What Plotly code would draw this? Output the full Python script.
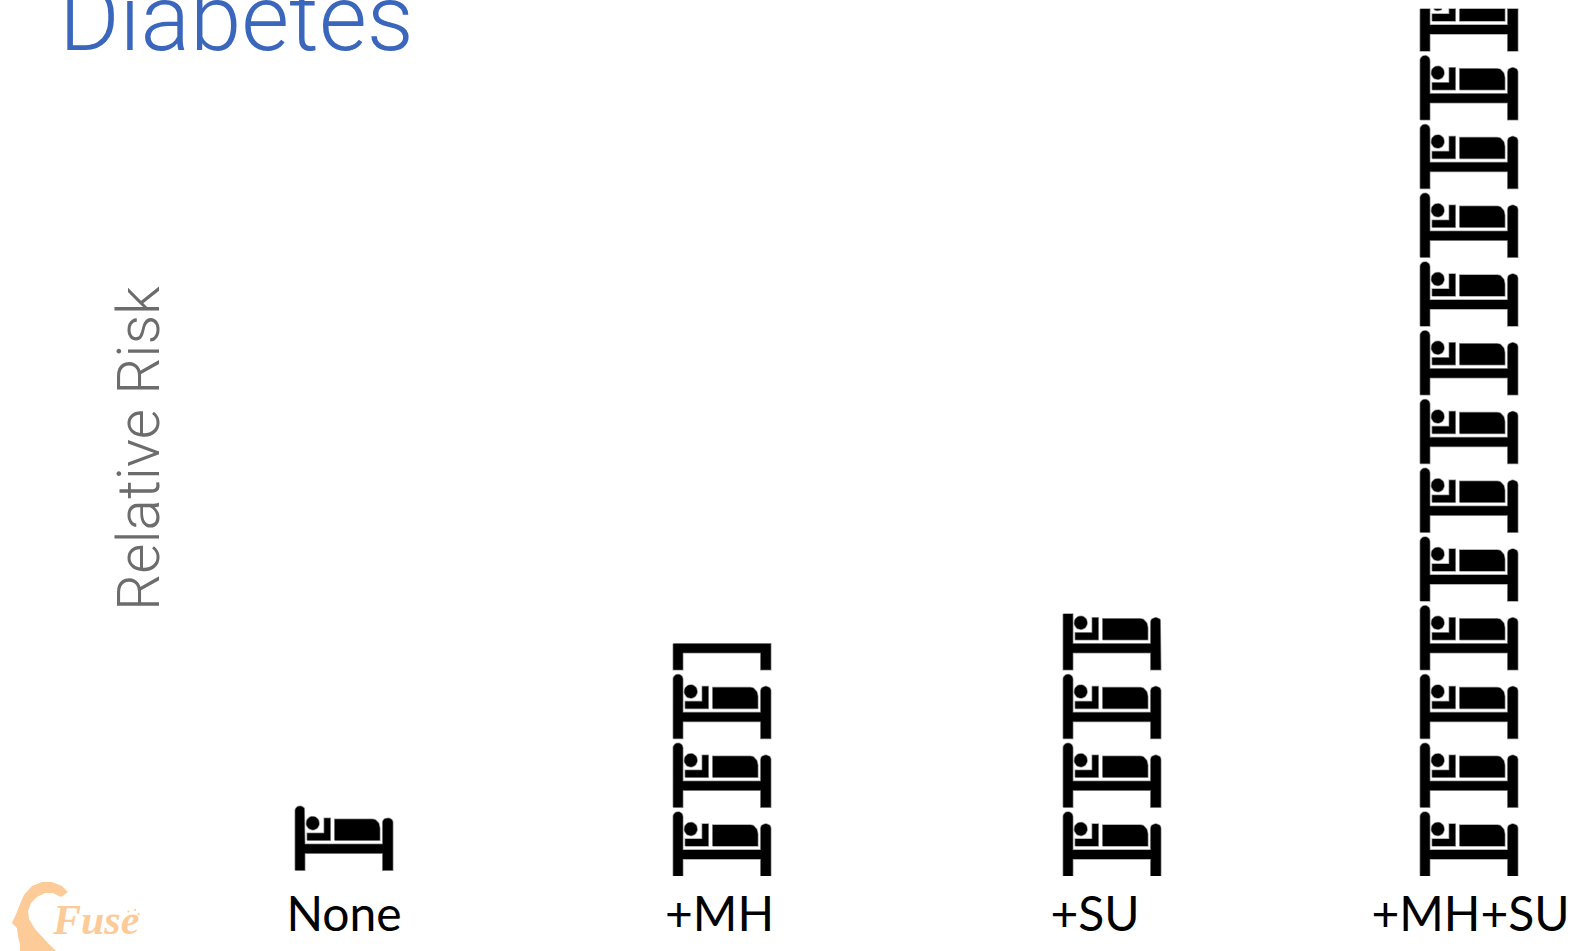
import numpy as np
import plotly.graph_objects as go

# Relative risk of hospitalisation by comorbidity group, one bed per unit of risk
categories = ["None", "+MH", "+SU", "+MH+SU"]
relative_risk = [1.0, 3.38, 3.81, 12.61]

WIDTH, HEIGHT = 1570, 951
PLOT_TOP, PLOT_BOTTOM = 8, 876
UNIT_PX = 68.75          # vertical pixels per unit of risk
CAT_PX = 375.5           # horizontal pixels per category step
CAT0_PX = 344

# Sideways nudges of each pictogram column, in category units, and lift of the first one
column_shift = [0.0, 0.0067, 0.0453, -0.004]
column_lift = [0.085, 0.0, 0.0, 0.0]

BED_W = 97.5 / CAT_PX


def arc(cx, cy, rx, ry, a0, a1, n=14):
    t = np.radians(np.linspace(a0, a1, n))
    return list(zip(cx + rx * np.cos(t), cy + ry * np.sin(t)))


def bed_parts():
    """Bed glyph as polygons on a 97.5 x 64 grid, y upwards from the feet."""
    frame = (
        [(0, 0), (9.5, 0), (9.5, 17), (87.5, 17), (87.5, 0), (97.5, 0), (97.5, 48)]
        + arc(92.5, 48, 5, 4, 0, 180)
        + [(87.5, 26), (9.5, 26)]
        + arc(4.75, 59.5, 4.75, 4.5, 0, 180)
    )
    mattress = (
        [(39.5, 30), (84.5, 30), (84.5, 42)]
        + arc(77, 42, 7.5, 9, 0, 90)
        + [(39.5, 51)]
    )
    arm = [
        (12, 30), (35, 30), (35, 52), (29, 52), (29, 37), (12, 37),
    ]
    head = arc(17.5, 47, 6.4, 6.6, 0, 360, 28)
    return [frame, mattress, arm, head]


def clip_below(poly, top):
    """Keep the part of a polygon that lies under the horizontal line y = top."""
    out = []
    for i, (x1, y1) in enumerate(poly):
        x0, y0 = poly[i - 1]
        if (y0 <= top) != (y1 <= top):
            f = (top - y0) / (y1 - y0)
            out.append((x0 + f * (x1 - x0), top))
        if y1 <= top:
            out.append((x1, y1))
    return out


def column_outline(position, value, lift):
    """Stack of beds for one category, the last one cut off at the value."""
    xs, ys = [], []
    for k in range(int(np.ceil(value))):
        for part in bed_parts():
            placed = [
                (position - BED_W / 2 + px / CAT_PX, lift + k + py / UNIT_PX)
                for px, py in part
            ]
            placed = clip_below(placed, value + lift)
            if len(placed) < 3:
                continue
            xs += [p[0] for p in placed] + [placed[0][0], None]
            ys += [p[1] for p in placed] + [placed[0][1], None]
    return xs, ys


fig = go.Figure()
for i, name in enumerate(categories):
    xs, ys = column_outline(i + column_shift[i], relative_risk[i], column_lift[i])
    fig.add_trace(
        go.Scatter(
            x=xs, y=ys, name=name, mode="lines", fill="toself",
            fillcolor="#000000", line=dict(color="rgba(0,0,0,0.4)", width=1.5),
            hoverinfo="skip", showlegend=False,
        )
    )


def paper_x(px):
    return px / WIDTH


def paper_y(py):
    return (PLOT_BOTTOM - py) / (PLOT_BOTTOM - PLOT_TOP)


def dot(cx, cy, r):
    return dict(type="circle", xref="paper", yref="paper",
                x0=paper_x(cx - r), x1=paper_x(cx + r),
                y0=paper_y(cy + r), y1=paper_y(cy - r),
                fillcolor=LOGO_ORANGE, line=dict(width=0))


# Logo head, a crescent in soft orange, with the sparkle beside its wordmark
LOGO_ORANGE = "#FDCB98"
head_px = [
    (68, 892), (62, 886), (52, 882), (42, 882), (32, 886), (24, 895), (20, 904),
    (17, 912), (12, 923), (17, 928), (18, 936), (20, 945), (20, 951), (56, 951),
    (46, 941), (35, 929), (29, 919), (28, 911), (31, 903), (37, 897), (45, 893),
    (53, 893), (61, 897),
]
logo_path = "M " + " L ".join(f"{paper_x(x):.5f},{paper_y(y):.5f}" for x, y in head_px) + " Z"

fig.update_layout(
    width=WIDTH, height=HEIGHT,
    margin=dict(l=0, r=0, t=PLOT_TOP, b=HEIGHT - PLOT_BOTTOM),
    paper_bgcolor="white", plot_bgcolor="white",
    showlegend=False,
    xaxis=dict(
        range=[-CAT0_PX / CAT_PX, (WIDTH - CAT0_PX) / CAT_PX],
        tickvals=list(range(len(categories))), ticktext=categories,
        tickfont=dict(family="Lato", size=48, color="#000000"),
        ticklabelstandoff=6,
        showgrid=False, zeroline=False, showline=False, ticks="",
    ),
    yaxis=dict(
        range=[0, (PLOT_BOTTOM - PLOT_TOP) / UNIT_PX],
        visible=False,
    ),
    shapes=[
        dict(type="path", path=logo_path, xref="paper", yref="paper",
             fillcolor=LOGO_ORANGE, line=dict(width=0)),
        dot(128.5, 911.5, 1.1), dot(135, 910, 1.1), dot(138.5, 914, 1.1),
    ],
    annotations=[
        dict(text="Diabetes", xref="paper", yref="paper", x=paper_x(57), y=paper_y(75),
             xanchor="left", yanchor="bottom", showarrow=False,
             font=dict(family="Roboto", size=92.5, color="#3A66BC", weight=300)),
        dict(text="Relative Risk", xref="paper", yref="paper", x=paper_x(139), y=paper_y(449),
             xanchor="center", yanchor="middle", textangle=-90, showarrow=False,
             font=dict(family="Roboto", size=58.5, color="#6C6C6C", weight=300)),
        dict(text="<b><i>Fuse</i></b>", xref="paper", yref="paper", x=paper_x(95), y=paper_y(920),
             xanchor="center", yanchor="middle", showarrow=False,
             font=dict(family="Liberation Serif", size=42, color=LOGO_ORANGE)),
    ],
)

fig.write_html("out.html", config={"displayModeBar": False})
